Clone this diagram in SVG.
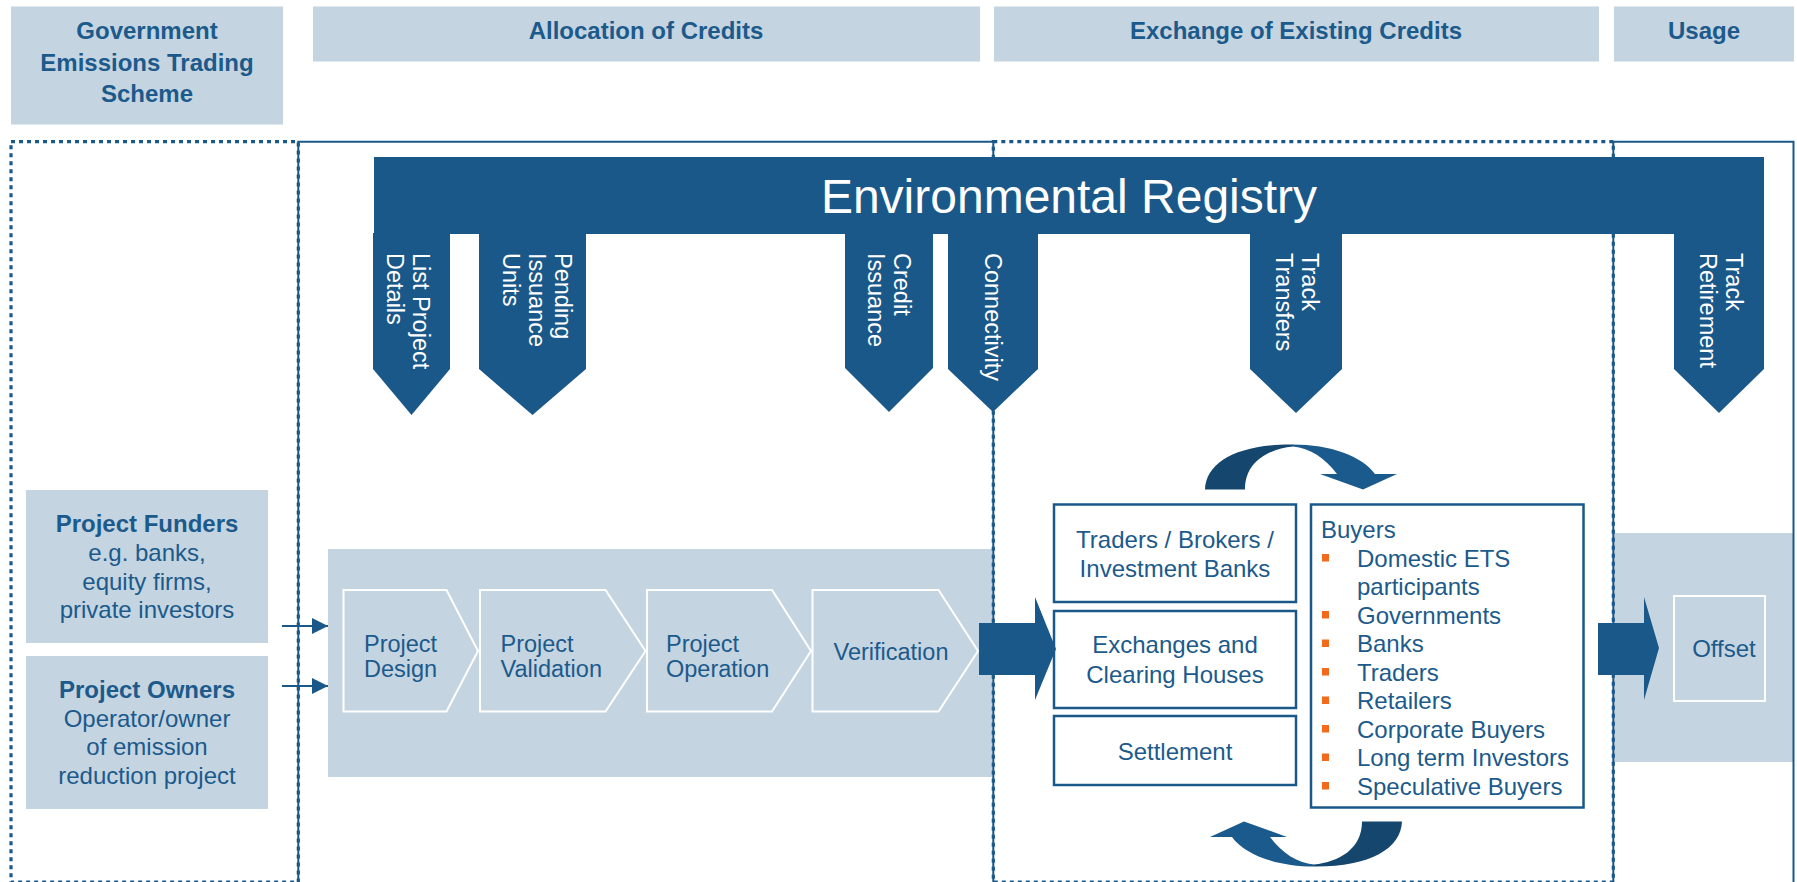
<svg xmlns="http://www.w3.org/2000/svg" width="1797" height="882" viewBox="0 0 1797 882">
<style>
text { font-family: "Liberation Sans", Arial, sans-serif; }
.hdr { fill: #C4D4E1; }
.ht { font-size: 24px; font-weight: bold; fill: #1C5A8B; text-anchor: middle; }
.light { fill: #C4D4E1; }
.dotted { fill: none; stroke: #1A5889; stroke-width: 3.2; stroke-dasharray: 4 4; }
.solid { fill: none; stroke: #1A5889; stroke-width: 2; }
.dk { fill: #1A5889; }
.tab { font-size: 23.5px; fill: #ffffff; }
.bt { font-size: 24px; fill: #1C5A8B; }
.bc { font-size: 24px; fill: #1C5A8B; text-anchor: middle; }
.ct { font-size: 23.5px; fill: #1C5A8B; }
.bx { fill: #ffffff; stroke: #1A5889; stroke-width: 2.5; }
.chev { fill: #C4D4E1; stroke: #ffffff; stroke-width: 2; }
.bul { fill: #F26A1B; }
.arr { fill: #1A5889; }
.cd { fill: #15466E; }
.cl { fill: #1B5A8C; }
</style>
<defs>
<marker id="ah" markerWidth="16" markerHeight="16" refX="16" refY="8" orient="auto" markerUnits="userSpaceOnUse">
<path d="M0,0 L16,8 L0,16 Z" fill="#1A5889"/>
</marker>
</defs>

<!-- light background panels -->
<g id="panels">
<rect class="light" x="328" y="549" width="664" height="228"/>
<rect class="light" x="1613.5" y="533" width="180" height="229"/>
</g>

<!-- column frames -->
<g id="columns">
<path class="solid" d="M298.3,884 V141.7 H993.3 V884"/>
<path class="solid" d="M1613.3,884 V141.7 H1793.5 V884"/>
<rect class="dotted" x="11" y="141.7" width="287.3" height="740.5"/>
<rect class="dotted" x="993.3" y="141.7" width="620" height="740.5"/>
</g>

<!-- headers -->
<g id="hdr-gov">
<rect class="hdr" x="11" y="6.5" width="272" height="118"/>
<text class="ht" x="147" y="38.5">Government</text>
<text class="ht" x="147" y="70.5">Emissions Trading</text>
<text class="ht" x="147" y="101.5">Scheme</text>
</g>
<g id="hdr-alloc">
<rect class="hdr" x="313" y="6.5" width="667" height="55"/>
<text class="ht" x="646" y="38.5">Allocation of Credits</text>
</g>
<g id="hdr-exchange">
<rect class="hdr" x="994" y="6.5" width="605" height="55"/>
<text class="ht" x="1296" y="38.5">Exchange of Existing Credits</text>
</g>
<g id="hdr-usage">
<rect class="hdr" x="1614" y="6.5" width="180" height="55"/>
<text class="ht" x="1704" y="38.5">Usage</text>
</g>

<!-- registry -->
<g id="registry">
<rect class="dk" x="374" y="157" width="1390" height="77"/>
<text x="1069" y="213" font-size="48" fill="#ffffff" text-anchor="middle">Environmental Registry</text>
</g>
<g id="tab-list">
<polygon class="dk" points="373,233 450,233 450,369 411.5,415 373,369"/>
<text class="tab" transform="translate(413,253) rotate(90)">List Project</text>
<text class="tab" transform="translate(387,253) rotate(90)">Details</text>
</g>
<g id="tab-pending">
<polygon class="dk" points="479,233 586,233 586,369 532.5,415 479,369"/>
<text class="tab" transform="translate(555,253) rotate(90)">Pending</text>
<text class="tab" transform="translate(529,253) rotate(90)">Issuance</text>
<text class="tab" transform="translate(503,253) rotate(90)">Units</text>
</g>
<g id="tab-credit">
<polygon class="dk" points="845,233 933,233 933,368 889,412 845,368"/>
<text class="tab" transform="translate(894,253) rotate(90)">Credit</text>
<text class="tab" transform="translate(868,253) rotate(90)">Issuance</text>
</g>
<g id="tab-connect">
<polygon class="dk" points="948,233 1038,233 1038,369 993,412 948,369"/>
<text class="tab" transform="translate(984.5,253) rotate(90)">Connectivity</text>
</g>
<g id="tab-transfers">
<polygon class="dk" points="1250,233 1342,233 1342,369 1296,413 1250,369"/>
<text class="tab" transform="translate(1302,253) rotate(90)">Track</text>
<text class="tab" transform="translate(1276,253) rotate(90)">Transfers</text>
</g>
<g id="tab-retire">
<polygon class="dk" points="1674,233 1764,233 1764,369 1719,413 1674,369"/>
<text class="tab" transform="translate(1726,253) rotate(90)">Track</text>
<text class="tab" transform="translate(1700,253) rotate(90)">Retirement</text>
</g>

<!-- left column -->
<g id="funders">
<rect class="light" x="26" y="490" width="242" height="153"/>
<text class="bc" x="147" y="531.5" font-weight="bold">Project Funders</text>
<text class="bc" x="147" y="561">e.g. banks,</text>
<text class="bc" x="147" y="589.5">equity firms,</text>
<text class="bc" x="147" y="617.5">private investors</text>
</g>
<g id="owners">
<rect class="light" x="26" y="656" width="242" height="153"/>
<text class="bc" x="147" y="697.5" font-weight="bold">Project Owners</text>
<text class="bc" x="147" y="726.5">Operator/owner</text>
<text class="bc" x="147" y="755">of emission</text>
<text class="bc" x="147" y="783.5">reduction project</text>
</g>

<!-- process steps -->
<g id="step-design">
<polygon class="chev" points="343.5,590 446.5,590 478,651 446.5,711.5 343.5,711.5"/>
<text class="ct" x="364" y="652">Project</text>
<text class="ct" x="364" y="676.5">Design</text>
</g>
<g id="step-validation">
<polygon class="chev" points="480,590 605.5,590 645.5,651 605.5,711.5 480,711.5"/>
<text class="ct" x="500.5" y="652">Project</text>
<text class="ct" x="500.5" y="676.5">Validation</text>
</g>
<g id="step-operation">
<polygon class="chev" points="647,590 772,590 811,651 772,711.5 647,711.5"/>
<text class="ct" x="666" y="652">Project</text>
<text class="ct" x="666" y="676.5">Operation</text>
</g>
<g id="step-verification">
<polygon class="chev" points="812.5,590 938.5,590 978,651 938.5,711.5 812.5,711.5"/>
<text class="ct" x="833.5" y="659.5">Verification</text>
</g>

<!-- exchange boxes -->
<g id="traders">
<rect class="bx" x="1054" y="504.5" width="242" height="97.5"/>
<text class="bc" x="1175" y="547.5">Traders / Brokers /</text>
<text class="bc" x="1175" y="576.5">Investment Banks</text>
</g>
<g id="exchanges">
<rect class="bx" x="1054" y="611" width="242" height="97"/>
<text class="bc" x="1175" y="653">Exchanges and</text>
<text class="bc" x="1175" y="682.5">Clearing Houses</text>
</g>
<g id="settlement">
<rect class="bx" x="1054" y="716" width="242" height="69"/>
<text class="bc" x="1175" y="759.5">Settlement</text>
</g>
<g id="buyers">
<rect class="bx" x="1311" y="504.5" width="272.5" height="303"/>
<text class="bt" x="1321" y="538">Buyers</text>
<rect class="bul" x="1322" y="554" width="7" height="7.5"/>
<text class="bt" x="1357" y="566.5">Domestic ETS</text>
<text class="bt" x="1357" y="595">participants</text>
<rect class="bul" x="1322" y="611" width="7" height="7.5"/>
<text class="bt" x="1357" y="623.5">Governments</text>
<rect class="bul" x="1322" y="639.5" width="7" height="7.5"/>
<text class="bt" x="1357" y="652">Banks</text>
<rect class="bul" x="1322" y="668" width="7" height="7.5"/>
<text class="bt" x="1357" y="680.5">Traders</text>
<rect class="bul" x="1322" y="696.5" width="7" height="7.5"/>
<text class="bt" x="1357" y="709">Retailers</text>
<rect class="bul" x="1322" y="725" width="7" height="7.5"/>
<text class="bt" x="1357" y="737.5">Corporate Buyers</text>
<rect class="bul" x="1322" y="753.5" width="7" height="7.5"/>
<text class="bt" x="1357" y="766">Long term Investors</text>
<rect class="bul" x="1322" y="782" width="7" height="7.5"/>
<text class="bt" x="1357" y="794.5">Speculative Buyers</text>
</g>
<g id="offset">
<rect x="1674" y="596" width="91" height="105" fill="none" stroke="#ffffff" stroke-width="2"/>
<text class="bt" x="1724" y="657" text-anchor="middle">Offset</text>
</g>

<!-- connectors -->
<g id="connectors">
<line x1="282" y1="626" x2="328" y2="626" stroke="#1A5889" stroke-width="2" marker-end="url(#ah)"/>
<line x1="282" y1="686" x2="328" y2="686" stroke="#1A5889" stroke-width="2" marker-end="url(#ah)"/>
<polygon class="arr" points="979,623 1035,623 1035,597 1056,649 1035,700 1035,675 979,675"/>
<polygon class="arr" points="1598,623 1644,623 1644,597 1659,648 1644,700 1644,675 1598,675"/>
<g id="cycle-top">
<path class="cd" d="M1205,489.5 C1206,462 1238,444 1293,444.5 L1293,446.5 C1268,449 1245,462 1245,489.5 Z"/>
<path class="cl" d="M1293,444.5 C1330,444.5 1362,456 1375,474 L1397,474 L1363,489.5 L1320,474 L1337,474 C1325,458 1310,448 1293,446.5 Z"/>
</g>
<g id="cycle-bottom" transform="rotate(180 1303.5 655.5)">
<path class="cd" d="M1205,489.5 C1206,462 1238,444 1293,444.5 L1293,446.5 C1268,449 1245,462 1245,489.5 Z"/>
<path class="cl" d="M1293,444.5 C1330,444.5 1362,456 1375,474 L1397,474 L1363,489.5 L1320,474 L1337,474 C1325,458 1310,448 1293,446.5 Z"/>
</g>
</g>
</svg>
